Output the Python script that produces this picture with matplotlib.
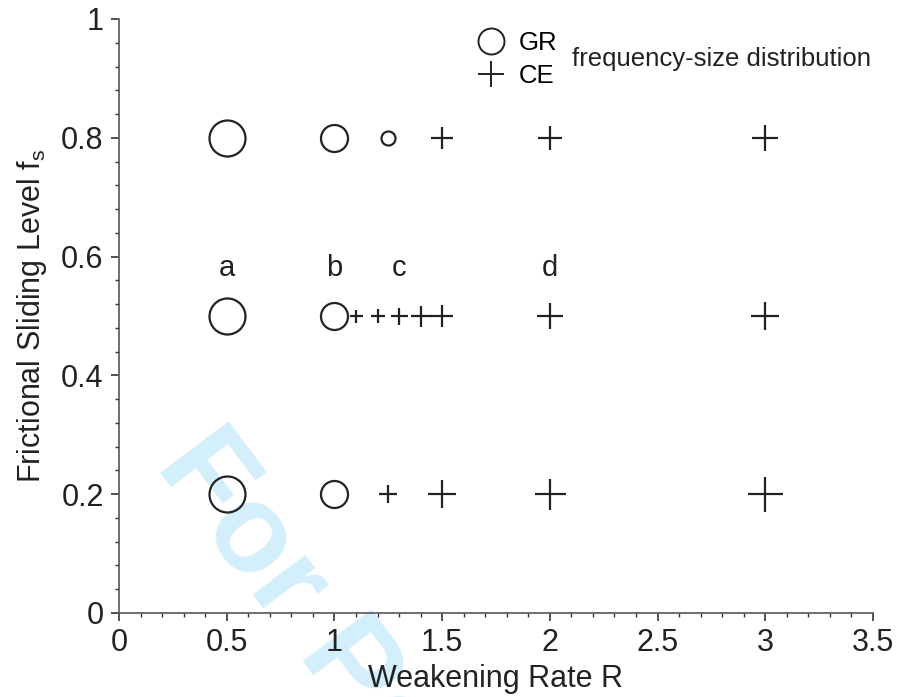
import matplotlib.pyplot as plt
from matplotlib.lines import Line2D
from matplotlib.ticker import MultipleLocator

plt.rcParams['font.family'] = ['Liberation Sans', 'DejaVu Sans']
plt.rcParams['mathtext.fontset'] = 'custom'
plt.rcParams['mathtext.rm'] = 'Liberation Sans'

# --- data: (weakening rate R, frictional level fs, marker diameter px) ---
gr_R = [0.5, 1.0, 1.25, 0.5, 1.0, 0.5, 1.0]
gr_fs = [0.8, 0.8, 0.8, 0.5, 0.5, 0.2, 0.2]
gr_size = [36, 27, 14, 36, 27, 36, 27]

ce_R = [1.5, 2.0, 3.0, 1.1, 1.2, 1.3, 1.4, 1.5, 2.0, 3.0, 1.25, 1.5, 2.0, 3.0]
ce_fs = [0.8, 0.8, 0.8, 0.5, 0.5, 0.5, 0.5, 0.5, 0.5, 0.5, 0.2, 0.2, 0.2, 0.2]
ce_size = [22, 24, 26, 13, 14, 17, 21, 22, 26, 28, 18, 28, 31, 35]

case_labels = ["a", "b", "c", "d"]
case_R = [0.5, 1.0, 1.3, 2.0]
case_fs = 0.58

DPI = 100
PX = 72.0 / DPI  # pixel -> point
ink = "#222222"

fig = plt.figure(figsize=(8.98, 6.97), dpi=DPI)
ax = fig.add_axes([119 / 898, 84 / 697, 754 / 898, 594 / 697])
ax.set_facecolor("none")

# watermark behind the axes (runs off the bottom edge like in the original)
fig.text(0.172, 0.332, "For Peer Review", fontsize=90, fontweight="bold",
         color="#d3effc", rotation=-53, rotation_mode="anchor",
         ha="left", va="baseline", zorder=-1)

for r, f, s in zip(gr_R, gr_fs, gr_size):
    ax.plot(r, f, marker="o", ms=s * PX, mfc="none", mec=ink, mew=1.6,
            ls="none", zorder=3, clip_on=False)
for r, f, s in zip(ce_R, ce_fs, ce_size):
    ax.plot(r, f, marker="+", ms=s * PX, mec=ink, mew=1.6,
            ls="none", zorder=3, clip_on=False)

for lab, r in zip(case_labels, case_R):
    ax.text(r, case_fs, lab, fontsize=21, ha="center", va="center", color=ink)

ax.set_xlim(0, 3.5)
ax.set_ylim(0, 1)
ax.xaxis.set_minor_locator(MultipleLocator(0.1))
ax.yaxis.set_minor_locator(MultipleLocator(0.04))
ax.set_xticks([0, 0.5, 1, 1.5, 2, 2.5, 3, 3.5])
ax.set_xticklabels(["0", "0.5", "1", "1.5", "2", "2.5", "3", "3.5"])
ax.set_yticks([0, 0.2, 0.4, 0.6, 0.8, 1])
ax.set_yticklabels(["0", "0.2", "0.4", "0.6", "0.8", "1"])

for side in ["top", "right"]:
    ax.spines[side].set_visible(False)
for side in ["left", "bottom"]:
    ax.spines[side].set_color("#555555")
    ax.spines[side].set_linewidth(1.2)
ax.tick_params(which="major", length=6, width=1.2, color="#333333",
               labelsize=22, pad=5, labelcolor=ink)
ax.tick_params(which="minor", length=3, width=1.0, color="#333333")

ax.set_xlabel("Weakening Rate R", fontsize=22, color=ink, labelpad=4)
ax.set_ylabel(r"Frictional Sliding Level f$_\mathrm{s}$", fontsize=22,
              color=ink, labelpad=9)

handles = [
    Line2D([], [], marker="o", ms=26 * PX, mfc="none", mec=ink, mew=1.4, ls="none"),
    Line2D([], [], marker="+", ms=26 * PX, mec=ink, mew=1.4, ls="none"),
]
ax.legend(handles, ["GR", "CE"], loc="center left",
          bbox_to_anchor=(0.474, 0.932), frameon=False, fontsize=18.5,
          handletextpad=0.55, labelspacing=0.35, handlelength=1.1,
          borderpad=0, borderaxespad=0)
ax.text(0.601, 0.933, "frequency-size distribution", transform=ax.transAxes,
        fontsize=18.5, ha="left", va="center", color=ink)

fig.savefig("out.png", dpi=DPI)
